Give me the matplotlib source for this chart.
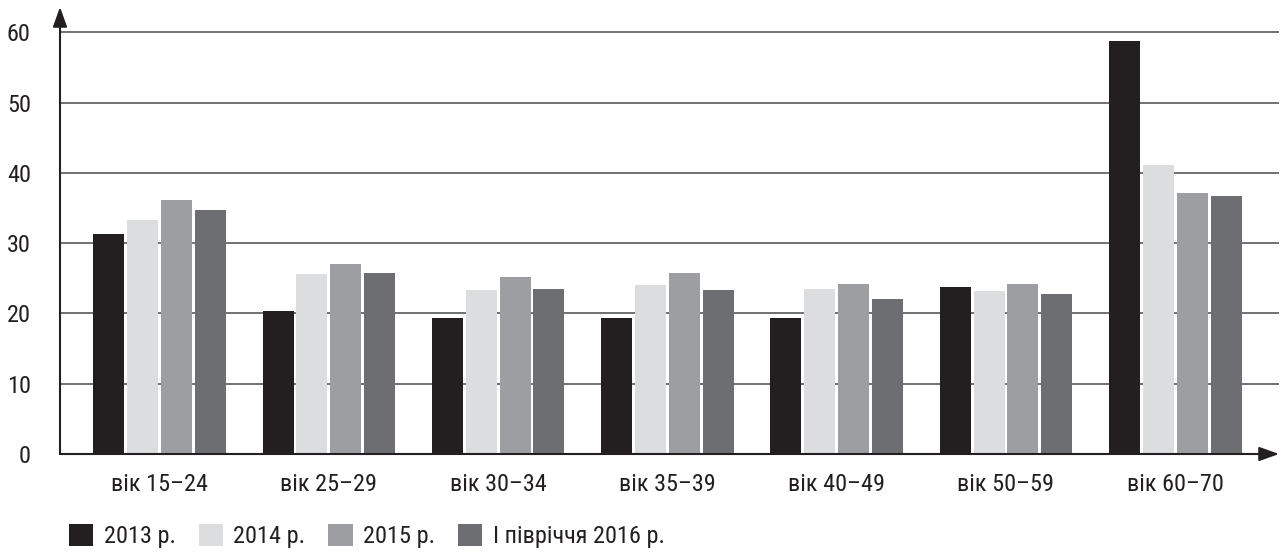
import numpy as np
import matplotlib
matplotlib.use('Agg')
import matplotlib.pyplot as plt
from matplotlib import font_manager

# pick a narrow sans if one is installed
installed = {f.name for f in font_manager.fontManager.ttflist}
prefs = ['Roboto Condensed', 'Liberation Sans Narrow', 'Open Sans Condensed',
         'Noto Sans Condensed', 'DejaVu Sans Condensed', 'Liberation Sans']
family = [f for f in prefs if f in installed][:1] + ['DejaVu Sans']
plt.rcParams['font.family'] = family

# Data
groups = ['вік 15–24', 'вік 25–29', 'вік 30–34', 'вік 35–39',
          'вік 40–49', 'вік 50–59', 'вік 60–70']
series = ['2013 р.', '2014 р.', '2015 р.', 'І півріччя 2016 р.']
v2013 = [31.3, 20.4, 19.4, 19.4, 19.4, 23.8, 58.7]
v2014 = [33.3, 25.6, 23.4, 24.1, 23.5, 23.2, 41.1]
v2015 = [36.1, 27.0, 25.2, 25.8, 24.2, 24.2, 37.2]
v2016 = [34.7, 25.7, 23.5, 23.4, 22.1, 22.8, 36.7]
colors = ['#231f20', '#dcdddf', '#9d9ea2', '#6d6e71']

W, H = 1282, 554
fig = plt.figure(figsize=(W / 100, H / 100), dpi=100)
ax = fig.add_axes([60 / W, 100 / H, (1279 - 60) / W, (454 - 7) / H])

x = np.arange(len(groups))
width = 0.183
step = 0.2
for i, (vals, lab, col) in enumerate(zip([v2013, v2014, v2015, v2016], series, colors)):
    ax.bar(x + (i - 1.5) * step, vals, width, color=col, label=lab, zorder=3)

ax.set_xlim(-0.588, 6.613)
ax.set_ylim(0, 63.6)
ax.set_yticks(np.arange(0, 61, 10))
ax.set_xticks(x)
ax.set_xticklabels(groups)

for yv in range(10, 61, 10):
    ax.axhline(yv, color='#4a4a4a', lw=1.1, zorder=1)

for s in ax.spines.values():
    s.set_visible(False)

ax.tick_params(axis='y', length=0, pad=21, labelsize=17.5, labelcolor='#231f20')
ax.tick_params(axis='x', length=0, pad=14, labelsize=17.5, labelcolor='#231f20')

# axis arrows
arrow = dict(arrowstyle='-|>,head_length=1.2,head_width=0.43', color='#231f20',
             lw=1.5, shrinkA=0, shrinkB=0, mutation_scale=10)
ax.annotate('', xy=(0, 1), xytext=(0, 0), xycoords='axes fraction',
            arrowprops=arrow, annotation_clip=False, zorder=5)
ax.annotate('', xy=(1, 0), xytext=(0, 0), xycoords='axes fraction',
            arrowprops=arrow, annotation_clip=False, zorder=5)

fig.legend(loc='center left', bbox_to_anchor=(69 / W, 18 / H), ncol=4,
           frameon=False, fontsize=17.5, handlelength=1.0, handleheight=1.0,
           handletextpad=0.42, columnspacing=0.95, borderpad=0, borderaxespad=0,
           labelcolor='#231f20')

fig.savefig('out.png', dpi=100)
